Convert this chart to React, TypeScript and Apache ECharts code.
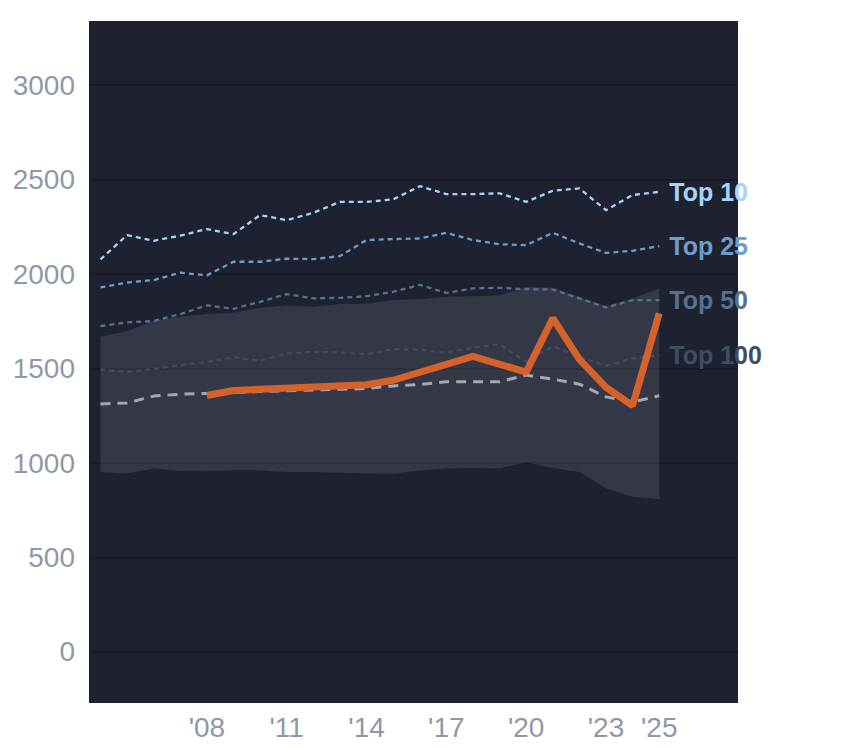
import React, { useEffect, useRef } from "react";
import * as echarts from "echarts";

const years = [2004, 2005, 2006, 2007, 2008, 2009, 2010, 2011, 2012, 2013, 2014, 2015, 2016, 2017, 2018, 2019, 2020, 2021, 2022, 2023, 2024, 2025];
const top10 = [2077, 2206, 2176, 2203, 2238, 2211, 2312, 2285, 2324, 2382, 2382, 2395, 2465, 2423, 2423, 2427, 2382, 2441, 2453, 2338, 2418, 2435];
const top25 = [1929, 1955, 1968, 2007, 1993, 2065, 2065, 2081, 2079, 2095, 2180, 2185, 2188, 2218, 2180, 2158, 2153, 2218, 2162, 2112, 2123, 2148];
const top50 = [1724, 1744, 1751, 1788, 1834, 1816, 1853, 1894, 1871, 1874, 1883, 1906, 1943, 1900, 1924, 1927, 1920, 1918, 1871, 1823, 1862, 1862];
const top100 = [1495, 1482, 1497, 1518, 1535, 1559, 1541, 1580, 1588, 1585, 1576, 1602, 1599, 1583, 1611, 1629, 1535, 1618, 1562, 1514, 1553, 1571];
const median = [1312, 1318, 1354, 1364, 1368, 1372, 1378, 1382, 1386, 1390, 1394, 1408, 1416, 1430, 1430, 1430, 1465, 1444, 1417, 1350, 1323, 1356];
const bandLow = [953, 944, 971, 958, 957, 962, 962, 953, 952, 948, 944, 943, 960, 971, 974, 971, 1003, 974, 953, 865, 821, 808];
const bandHigh = [1668, 1698, 1751, 1774, 1788, 1795, 1821, 1834, 1827, 1841, 1844, 1862, 1866, 1880, 1883, 1888, 1932, 1929, 1880, 1830, 1870, 1925];

const focusYears = [2008, 2009, 2014, 2015, 2018, 2020, 2021, 2022, 2023, 2024, 2025];
const focusValues = [1357, 1384, 1414, 1438, 1564, 1481, 1766, 1548, 1400, 1304, 1792];

const xTickYears = [2008, 2011, 2014, 2017, 2020, 2023, 2025];
const yTicks = [0, 500, 1000, 1500, 2000, 2500, 3000];

const tierLabels = ["Top 10", "Top 25", "Top 50", "Top 100"];
const tierColors = ["#a6d4f7", "#6d9dca", "#58708f", "#414c63"];

const FONT = "'Liberation Sans', Arial, Helvetica, sans-serif";

export default function App() {
  const ref = useRef<HTMLDivElement>(null);
  useEffect(() => {
    document.body.style.margin = "0";
    if (!ref.current) return;
    const chart = echarts.init(ref.current, null, { renderer: "svg" });
    const pair = (vals: number[]) => years.map((y, i) => [y, vals[i]]);
    const tiers = [top10, top25, top50, top100];
    const tierSeries = tiers.map((vals, k) => ({
      type: "line",
      name: tierLabels[k],
      data: pair(vals),
      symbol: "none",
      z: 4,
      lineStyle: { color: tierColors[k], width: 2.3, type: [5, 4] },
      endLabel: {
        show: true,
        formatter: tierLabels[k],
        color: tierColors[k],
        fontSize: 25,
        fontWeight: "bold",
        fontFamily: FONT,
        distance: 10,
      },
    }));
    chart.setOption({
      animation: false,
      backgroundColor: "#ffffff",
      grid: {
        left: 89,
        right: 106,
        top: 21,
        bottom: 45,
        show: true,
        backgroundColor: "#1d2130",
        borderWidth: 0,
        containLabel: false,
      },
      xAxis: {
        type: "value",
        min: 2003.57,
        max: 2027.96,
        axisLine: { show: false },
        axisTick: { show: false, customValues: xTickYears },
        splitLine: { show: false },
        axisLabel: {
          customValues: xTickYears,
          formatter: (v: number) => "'" + String(Math.round(v)).slice(2),
          color: "#8e98a8",
          fontSize: 28,
          fontFamily: FONT,
          margin: 10,
        },
      },
      yAxis: {
        type: "value",
        min: -270,
        max: 3339,
        axisLine: { show: false },
        axisTick: { show: false, customValues: yTicks },
        splitLine: { show: true, lineStyle: { color: "#161923", width: 2 } },
        axisLabel: {
          customValues: yTicks,
          formatter: (v: number) => String(Math.round(v)),
          color: "#8e98a8",
          fontSize: 28,
          fontFamily: FONT,
          margin: 14,
        },
      },
      series: [
        {
          type: "custom",
          data: [[years[0], bandLow[0]]],
          encode: { x: 0, y: 1 },
          z: 2,
          silent: true,
          renderItem: (_params: any, api: any) => {
            const up = years.map((y, i) => api.coord([y, bandHigh[i]]));
            const down = years.map((y, i) => api.coord([y, bandLow[i]])).reverse();
            return {
              type: "polygon",
              shape: { points: up.concat(down) },
              style: { fill: "rgba(255,255,255,0.1)" },
            };
          },
        },
        ...tierSeries,
        {
          type: "line",
          data: pair(median),
          symbol: "none",
          z: 5,
          lineStyle: { color: "#a2a8b2", width: 3, type: [10, 7] },
        },
        {
          type: "line",
          data: focusYears.map((y, i) => [y, focusValues[i]]),
          symbol: "none",
          z: 6,
          lineStyle: { color: "#d5612b", width: 7 },
        },
      ],
    });
    return () => chart.dispose();
  }, []);
  return <div ref={ref} style={{ width: 844, height: 748 }} />;
}
